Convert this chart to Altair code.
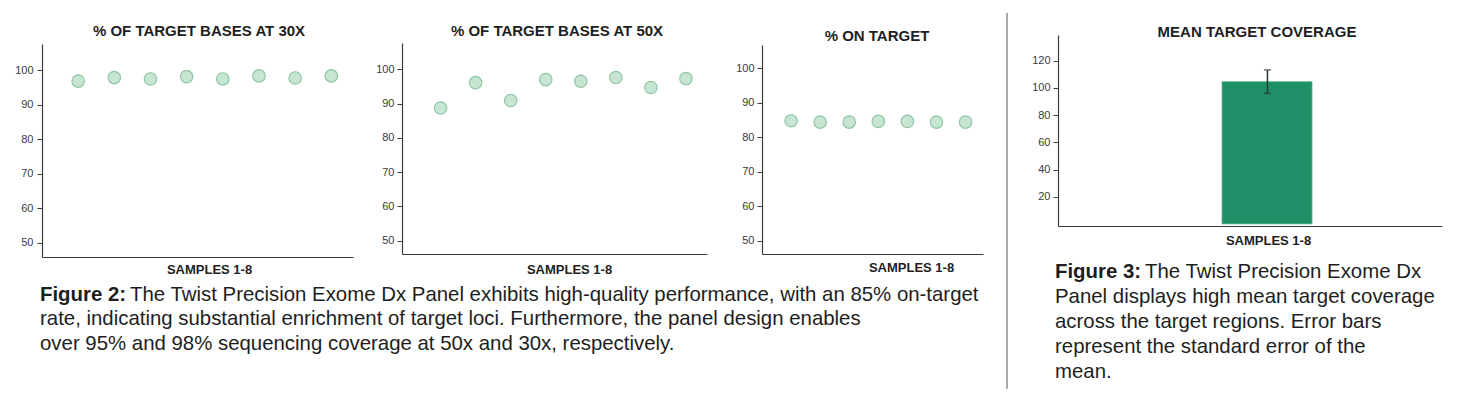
import altair as alt
import pandas as pd

# ---------------- data ----------------
samples_30x = [1, 2, 3, 4, 5, 6, 7, 8]
pct_30x = [96.8, 97.8, 97.4, 98.1, 97.4, 98.3, 97.7, 98.3]

samples_50x = [1, 2, 3, 4, 5, 6, 7, 8]
pct_50x = [88.7, 96.1, 90.9, 97.0, 96.5, 97.6, 94.7, 97.3]

samples_on = [1, 2, 3, 4, 5, 6, 7]
pct_on_target = [84.8, 84.4, 84.4, 84.6, 84.6, 84.4, 84.4]

cov_group = [1]
cov_mean = [104.6]
cov_se = [8.6]
cov_base = [0]

pct_ticks = [50, 60, 70, 80, 90, 100]
cov_ticks = [20, 40, 60, 80, 100, 120]

panel_titles = ["% OF TARGET BASES AT 30X", "% OF TARGET BASES AT 50X",
                "% ON TARGET", "MEAN TARGET COVERAGE"]
x_title = "SAMPLES 1-8"

fig2_bold = "Figure 2:"
fig2_lines = [
    "The Twist Precision Exome Dx Panel exhibits high-quality performance, with an 85% on-target",
    "rate, indicating substantial enrichment of target loci. Furthermore, the panel design enables",
    "over 95% and 98% sequencing coverage at 50x and 30x, respectively.",
]
fig3_bold = "Figure 3:"
fig3_lines = [
    "The Twist Precision Exome Dx",
    "Panel displays high mean target coverage",
    "across the target regions. Error bars",
    "represent the standard error of the",
    "mean.",
]

# ---------------- styling ----------------
W, H = 1440, 382
FONT = "Liberation Sans"
DARK = "#1e1e1e"
AX = "#3a3a3a"
DOT_FILL = "#c6e5d2"
DOT_STROKE = "#90c5a6"
BAR = "#1f8f68"
CAP_SIZE = 20.4


def yaxis(values, off, pad=3):
    return alt.Axis(orient="left", offset=off, values=values, title=None, grid=False,
                    labelFont=FONT, labelFontSize=11, labelColor=AX, labelPadding=pad,
                    tickColor=AX, tickSize=5, tickWidth=1, domainColor=AX, domainWidth=1.2)


def xaxis(off, tx, ty):
    return alt.Axis(orient="bottom", offset=off, labels=False, ticks=False, grid=False,
                    domainColor=AX, domainWidth=1.2, title=x_title, titleFont=FONT,
                    titleFontSize=13, titleFontWeight="bold", titleColor=DARK,
                    titleX=tx, titleY=ty, titleBaseline="alphabetic", titleAlign="center")


def dot_panel(samples, values, xr, xd, yr, yd, yoff, xoff, tx, ty, pad=3):
    df = pd.DataFrame({"sample": samples, "pct": values})
    return alt.Chart(df).mark_circle(size=155, fill=DOT_FILL, stroke=DOT_STROKE,
                                     strokeWidth=1.2, opacity=1).encode(
        x=alt.X("sample:Q", scale=alt.Scale(domain=xd, range=xr, nice=False, zero=False),
                axis=xaxis(xoff, tx, ty)),
        y=alt.Y("pct:Q", scale=alt.Scale(domain=yd, range=yr, nice=False, zero=False),
                axis=yaxis(pct_ticks, yoff, pad)),
    )


def text_layer(txt, x, y, size, weight="normal", align="left"):
    return alt.Chart(pd.DataFrame({"t": [txt]})).mark_text(
        align=align, baseline="alphabetic", font=FONT, fontSize=size,
        fontWeight=weight, color=DARK).encode(
        x=alt.value(x), y=alt.value(y), text="t:N")


p1 = dot_panel(samples_30x, pct_30x, [34, 345], [0, 8.6], [249, 36], [45.86, 107.53],
               -34, -(H - 249), 201, 16.5, pad=4)
p2 = dot_panel(samples_50x, pct_50x, [394, 699], [-0.1, 8.6], [246, 35], [46.12, 107.67],
               -394, -(H - 246), 561, 19.3)
p3 = dot_panel(samples_on, pct_on_target, [754, 975], [0, 7.6], [246, 37], [46.14, 106.76],
               -754, -(H - 246), 903, 17.7)

cov_df = pd.DataFrame({
    "group": cov_group, "mean": cov_mean, "base": cov_base,
    "lo": [m - s for m, s in zip(cov_mean, cov_se)],
    "hi": [m + s for m, s in zip(cov_mean, cov_se)],
})
X4_DOMAIN, X4_RANGE = [-0.2, 2.0], [1050, 1434]
Y4_DOMAIN, Y4_RANGE = [-1.54, 138.9], [218, 27]


def xs4():
    return alt.Scale(domain=X4_DOMAIN, range=X4_RANGE, nice=False, zero=False)


def ys4():
    return alt.Scale(domain=Y4_DOMAIN, range=Y4_RANGE, nice=False, zero=False)


bar = alt.Chart(cov_df).mark_bar(size=90, color=BAR, stroke="#56b98c", strokeWidth=0.8).encode(
    x=alt.X("group:Q", scale=xs4(), axis=xaxis(-(H - 218), 1260, 18)),
    y=alt.Y("mean:Q", scale=ys4(), axis=yaxis(cov_ticks, -1050)),
    y2="base:Q",
)
err = alt.Chart(cov_df).mark_rule(color="#2b3a33", strokeWidth=1.5).encode(
    x=alt.X("group:Q", scale=xs4(), axis=None),
    y=alt.Y("lo:Q", scale=ys4(), axis=None),
    y2="hi:Q",
)
caps = alt.Chart(cov_df).transform_fold(["lo", "hi"], as_=["k", "v"]).mark_tick(
    orient="horizontal", size=7, thickness=1.5, color="#2b3a33").encode(
    x=alt.X("group:Q", scale=xs4(), axis=None),
    y=alt.Y("v:Q", scale=ys4(), axis=None),
)

divider = alt.Chart(pd.DataFrame({"d": [0]})).mark_rule(color="#a9a9a9", strokeWidth=2).encode(
    x=alt.value(999), y=alt.value(5), y2=alt.value(381))

titles = [
    text_layer(panel_titles[0], 191, 28, 15, "bold", "center"),
    text_layer(panel_titles[1], 549, 27.7, 15, "bold", "center"),
    text_layer(panel_titles[2], 869, 32.7, 15, "bold", "center"),
    text_layer(panel_titles[3], 1249, 29.3, 15, "bold", "center"),
]

caps2 = [text_layer(fig2_bold, 32, 292.5, CAP_SIZE, "bold"),
         text_layer(fig2_lines[0], 122, 292.5, CAP_SIZE),
         text_layer(fig2_lines[1], 32, 317, CAP_SIZE),
         text_layer(fig2_lines[2], 32, 342, CAP_SIZE)]
caps3 = [text_layer(fig3_bold, 1047, 270.3, CAP_SIZE, "bold"),
         text_layer(fig3_lines[0], 1137, 270.3, CAP_SIZE)]
for i, line in enumerate(fig3_lines[1:]):
    caps3.append(text_layer(line, 1047, [295.3, 320.3, 345.3, 369.7][i], CAP_SIZE))

chart = alt.layer(p1, p2, p3, bar, err, caps, divider, *titles, *caps2, *caps3).resolve_scale(
    x="independent", y="independent"
).properties(width=W, height=H, padding=0, background="white").configure_view(strokeWidth=0)

chart.save("out.html", embed_options={"renderer": "svg", "actions": False})
